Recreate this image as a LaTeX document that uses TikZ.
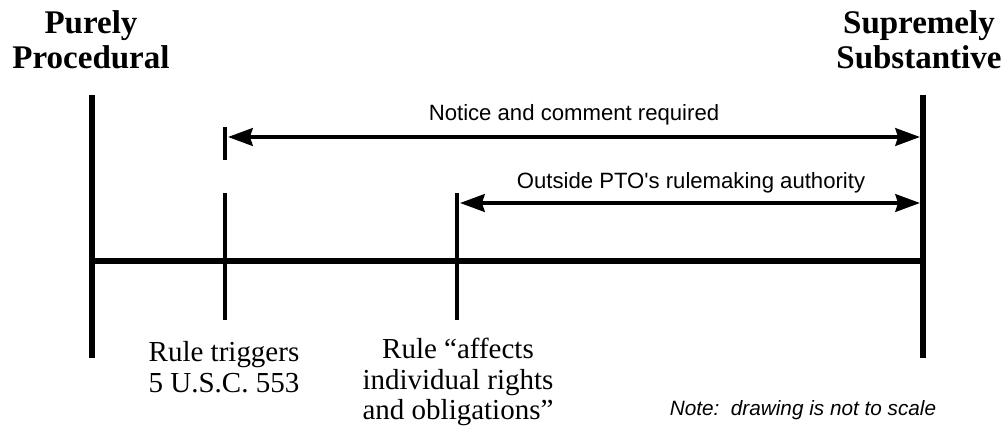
\documentclass[tikz,border=0pt]{standalone}
\usepackage{fontspec}
\setmainfont{Liberation Serif}
\setsansfont{Liberation Sans}
\usetikzlibrary{arrows.meta, positioning}
\tikzset{%
	scale line/.style={
		line width=3.4pt
	},
	tick line/.style={
		line width=2.8pt
	},
	range arrow/.style={
		line width=2.2pt,
		{Stealth[length=14pt, width=10pt, inset=1.5pt]}-{Stealth[length=14pt, width=10pt, inset=1.5pt]}
	},
	end label/.style={
		font=\fontsize{18.8}{20}\selectfont\bfseries,
		align=center,
		inner sep=0pt
	},
	rule label/.style={
		font=\fontsize{16.5}{17.4}\selectfont,
		align=center,
		inner sep=0pt
	},
	range label/.style={
		font=\sffamily\fontsize{12.6}{14}\selectfont,
		inner sep=0pt
	},
}

\begin{document}
\begin{tikzpicture}[x=0.02cm, y=-0.02cm]
				\useasboundingbox (0,0) rectangle (1005,432);
				% Ends of the scale
				\foreach \name/\x in {proc/92, subst/923}
				{
					\coordinate (\name-top) at (\x,95);
					\coordinate (\name-bot) at (\x,358);
					\draw[scale line] (\name-top) -- (\name-bot);
				}
				\draw[scale line] (proc-top |- 0,261) -- (subst-top |- 0,261);
				% Ticks
				\coordinate (apa-top) at (225,127);
				\coordinate (apa-mid) at (225,160);
				\coordinate (apa-low) at (225,193);
				\coordinate (apa-bot) at (225,320);
				\coordinate (rights-top) at (457,193);
				\coordinate (rights-bot) at (457,320);
				\draw[tick line] (apa-top) -- (apa-mid);
				\draw[tick line] (apa-low) -- (apa-bot);
				\draw[tick line] (rights-top) -- (rights-bot);
				% Ranges
				\coordinate (notice-l) at (228,137);
				\coordinate (notice-r) at (920,137);
				\coordinate (outside-l) at (460,203);
				\coordinate (outside-r) at (920,203);
				\draw[range arrow] (notice-l) -- (notice-r);
				\draw[range arrow] (outside-l) -- (outside-r);
				\node[range label] (notice) at (574,115) {Notice and comment required};
				\node[range label] (outside) at (691,183) {Outside PTO\textquotesingle s rulemaking authority};
				% Labels
				\node[end label] (proc) at (91,40) {Purely\\Procedural};
				\node[end label] (subst) at (919,40) {Supremely\\Substantive};
				\node[rule label] (apa) at (224,367) {Rule triggers\\5 U.S.C. 553};
				\node[rule label] (rights) at (458,382) {Rule “affects\\individual rights\\and obligations”};
				\node[range label, font=\sffamily\itshape\fontsize{11.8}{13}\selectfont] (note) at (803,410) {Note:\ \ drawing is not to scale};
			\end{tikzpicture}
\end{document}
